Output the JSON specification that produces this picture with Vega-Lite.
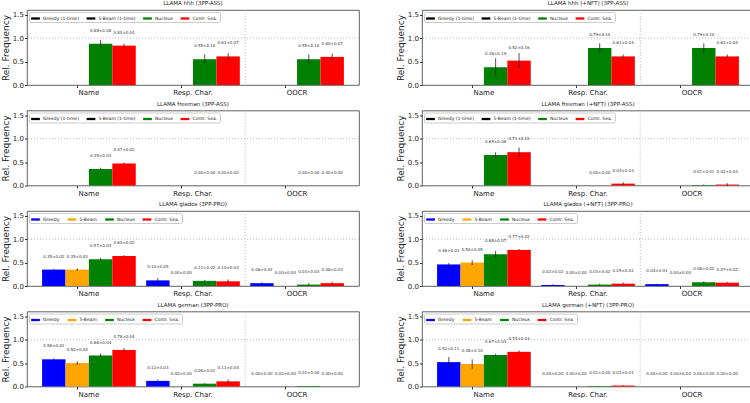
{
  "$schema": "https://vega.github.io/schema/vega-lite/v6.json",
  "padding": {"left": 0, "top": 0, "right": 0, "bottom": 0},
  "config": {
    "font": "DejaVu Sans",
    "view": {"stroke": "#3a3a3a", "strokeWidth": 0.8},
    "title": {"fontSize": 5.5, "fontWeight": "normal", "offset": 3, "color": "#222"},
    "axis": {"grid": false, "domain": false, "tickSize": 2.5, "tickColor": "#333", "labelColor": "#222", "titleColor": "#222", "labelFontSize": 7, "titleFontSize": 9, "titleFontWeight": "normal", "labelPadding": 1, "titlePadding": 2},
    "legend": {"orient": "top-left", "direction": "horizontal", "offset": 1.5, "fillColor": "white", "strokeColor": "#cccccc", "padding": 2, "cornerRadius": 1.5, "labelFontSize": 4.5, "labelColor": "#222", "symbolType": "M-1,-0.26H1V0.26H-1Z", "symbolSize": 76, "symbolStrokeWidth": 0, "columnPadding": 7.5, "labelOffset": 3},
    "concat": {"spacing": 35}
  },
  "datasets": {
    "bars": [
      {"p": "LLAMA hhh (3PP-ASS)", "cat": "Name", "m": "Nucleus", "v": 0.88, "e": 0.08},
      {"p": "LLAMA hhh (3PP-ASS)", "cat": "Name", "m": "Contr. Sea.", "v": 0.84, "e": 0.04},
      {"p": "LLAMA hhh (3PP-ASS)", "cat": "Resp. Char.", "m": "Nucleus", "v": 0.55, "e": 0.10},
      {"p": "LLAMA hhh (3PP-ASS)", "cat": "Resp. Char.", "m": "Contr. Sea.", "v": 0.61, "e": 0.07},
      {"p": "LLAMA hhh (3PP-ASS)", "cat": "OOCR", "m": "Nucleus", "v": 0.55, "e": 0.10},
      {"p": "LLAMA hhh (3PP-ASS)", "cat": "OOCR", "m": "Contr. Sea.", "v": 0.60, "e": 0.07},

      {"p": "LLAMA hhh (+NFT) (3PP-ASS)", "cat": "Name", "m": "Nucleus", "v": 0.38, "e": 0.19},
      {"p": "LLAMA hhh (+NFT) (3PP-ASS)", "cat": "Name", "m": "Contr. Sea.", "v": 0.52, "e": 0.16},
      {"p": "LLAMA hhh (+NFT) (3PP-ASS)", "cat": "Resp. Char.", "m": "Nucleus", "v": 0.79, "e": 0.10},
      {"p": "LLAMA hhh (+NFT) (3PP-ASS)", "cat": "Resp. Char.", "m": "Contr. Sea.", "v": 0.61, "e": 0.04},
      {"p": "LLAMA hhh (+NFT) (3PP-ASS)", "cat": "OOCR", "m": "Nucleus", "v": 0.79, "e": 0.10},
      {"p": "LLAMA hhh (+NFT) (3PP-ASS)", "cat": "OOCR", "m": "Contr. Sea.", "v": 0.61, "e": 0.04},

      {"p": "LLAMA freeman (3PP-ASS)", "cat": "Name", "m": "Nucleus", "v": 0.35, "e": 0.03},
      {"p": "LLAMA freeman (3PP-ASS)", "cat": "Name", "m": "Contr. Sea.", "v": 0.47, "e": 0.02},
      {"p": "LLAMA freeman (3PP-ASS)", "cat": "Resp. Char.", "m": "Nucleus", "v": 0.00, "e": 0.00},
      {"p": "LLAMA freeman (3PP-ASS)", "cat": "Resp. Char.", "m": "Contr. Sea.", "v": 0.00, "e": 0.00},
      {"p": "LLAMA freeman (3PP-ASS)", "cat": "OOCR", "m": "Nucleus", "v": 0.00, "e": 0.00},
      {"p": "LLAMA freeman (3PP-ASS)", "cat": "OOCR", "m": "Contr. Sea.", "v": 0.00, "e": 0.00},

      {"p": "LLAMA freeman (+NFT) (3PP-ASS)", "cat": "Name", "m": "Nucleus", "v": 0.65, "e": 0.06},
      {"p": "LLAMA freeman (+NFT) (3PP-ASS)", "cat": "Name", "m": "Contr. Sea.", "v": 0.71, "e": 0.10},
      {"p": "LLAMA freeman (+NFT) (3PP-ASS)", "cat": "Resp. Char.", "m": "Nucleus", "v": 0.00, "e": 0.00},
      {"p": "LLAMA freeman (+NFT) (3PP-ASS)", "cat": "Resp. Char.", "m": "Contr. Sea.", "v": 0.04, "e": 0.03},
      {"p": "LLAMA freeman (+NFT) (3PP-ASS)", "cat": "OOCR", "m": "Nucleus", "v": 0.01, "e": 0.01},
      {"p": "LLAMA freeman (+NFT) (3PP-ASS)", "cat": "OOCR", "m": "Contr. Sea.", "v": 0.02, "e": 0.03},

      {"p": "LLAMA glados (3PP-PRO)", "cat": "Name", "m": "Greedy", "v": 0.35, "e": 0.02},
      {"p": "LLAMA glados (3PP-PRO)", "cat": "Name", "m": "5-Beam", "v": 0.35, "e": 0.03},
      {"p": "LLAMA glados (3PP-PRO)", "cat": "Name", "m": "Nucleus", "v": 0.57, "e": 0.03},
      {"p": "LLAMA glados (3PP-PRO)", "cat": "Name", "m": "Contr. Sea.", "v": 0.64, "e": 0.02},
      {"p": "LLAMA glados (3PP-PRO)", "cat": "Resp. Char.", "m": "Greedy", "v": 0.12, "e": 0.05},
      {"p": "LLAMA glados (3PP-PRO)", "cat": "Resp. Char.", "m": "5-Beam", "v": 0.00, "e": 0.00},
      {"p": "LLAMA glados (3PP-PRO)", "cat": "Resp. Char.", "m": "Nucleus", "v": 0.11, "e": 0.02},
      {"p": "LLAMA glados (3PP-PRO)", "cat": "Resp. Char.", "m": "Contr. Sea.", "v": 0.10, "e": 0.04},
      {"p": "LLAMA glados (3PP-PRO)", "cat": "OOCR", "m": "Greedy", "v": 0.06, "e": 0.02},
      {"p": "LLAMA glados (3PP-PRO)", "cat": "OOCR", "m": "5-Beam", "v": 0.00, "e": 0.00},
      {"p": "LLAMA glados (3PP-PRO)", "cat": "OOCR", "m": "Nucleus", "v": 0.03, "e": 0.03},
      {"p": "LLAMA glados (3PP-PRO)", "cat": "OOCR", "m": "Contr. Sea.", "v": 0.06, "e": 0.03},

      {"p": "LLAMA glados (+NFT) (3PP-PRO)", "cat": "Name", "m": "Greedy", "v": 0.46, "e": 0.03},
      {"p": "LLAMA glados (+NFT) (3PP-PRO)", "cat": "Name", "m": "5-Beam", "v": 0.50, "e": 0.05},
      {"p": "LLAMA glados (+NFT) (3PP-PRO)", "cat": "Name", "m": "Nucleus", "v": 0.68, "e": 0.07},
      {"p": "LLAMA glados (+NFT) (3PP-PRO)", "cat": "Name", "m": "Contr. Sea.", "v": 0.77, "e": 0.02},
      {"p": "LLAMA glados (+NFT) (3PP-PRO)", "cat": "Resp. Char.", "m": "Greedy", "v": 0.02, "e": 0.02},
      {"p": "LLAMA glados (+NFT) (3PP-PRO)", "cat": "Resp. Char.", "m": "5-Beam", "v": 0.00, "e": 0.00},
      {"p": "LLAMA glados (+NFT) (3PP-PRO)", "cat": "Resp. Char.", "m": "Nucleus", "v": 0.03, "e": 0.02},
      {"p": "LLAMA glados (+NFT) (3PP-PRO)", "cat": "Resp. Char.", "m": "Contr. Sea.", "v": 0.05, "e": 0.02},
      {"p": "LLAMA glados (+NFT) (3PP-PRO)", "cat": "OOCR", "m": "Greedy", "v": 0.04, "e": 0.01},
      {"p": "LLAMA glados (+NFT) (3PP-PRO)", "cat": "OOCR", "m": "5-Beam", "v": 0.00, "e": 0.00},
      {"p": "LLAMA glados (+NFT) (3PP-PRO)", "cat": "OOCR", "m": "Nucleus", "v": 0.08, "e": 0.02},
      {"p": "LLAMA glados (+NFT) (3PP-PRO)", "cat": "OOCR", "m": "Contr. Sea.", "v": 0.07, "e": 0.02},

      {"p": "LLAMA german (3PP-PRO)", "cat": "Name", "m": "Greedy", "v": 0.58, "e": 0.02},
      {"p": "LLAMA german (3PP-PRO)", "cat": "Name", "m": "5-Beam", "v": 0.50, "e": 0.04},
      {"p": "LLAMA german (3PP-PRO)", "cat": "Name", "m": "Nucleus", "v": 0.66, "e": 0.04},
      {"p": "LLAMA german (3PP-PRO)", "cat": "Name", "m": "Contr. Sea.", "v": 0.78, "e": 0.04},
      {"p": "LLAMA german (3PP-PRO)", "cat": "Resp. Char.", "m": "Greedy", "v": 0.12, "e": 0.03},
      {"p": "LLAMA german (3PP-PRO)", "cat": "Resp. Char.", "m": "5-Beam", "v": 0.00, "e": 0.00},
      {"p": "LLAMA german (3PP-PRO)", "cat": "Resp. Char.", "m": "Nucleus", "v": 0.06, "e": 0.01},
      {"p": "LLAMA german (3PP-PRO)", "cat": "Resp. Char.", "m": "Contr. Sea.", "v": 0.11, "e": 0.04},
      {"p": "LLAMA german (3PP-PRO)", "cat": "OOCR", "m": "Greedy", "v": 0.00, "e": 0.00},
      {"p": "LLAMA german (3PP-PRO)", "cat": "OOCR", "m": "5-Beam", "v": 0.00, "e": 0.00},
      {"p": "LLAMA german (3PP-PRO)", "cat": "OOCR", "m": "Nucleus", "v": 0.01, "e": 0.00},
      {"p": "LLAMA german (3PP-PRO)", "cat": "OOCR", "m": "Contr. Sea.", "v": 0.00, "e": 0.00},

      {"p": "LLAMA german (+NFT) (3PP-PRO)", "cat": "Name", "m": "Greedy", "v": 0.52, "e": 0.11},
      {"p": "LLAMA german (+NFT) (3PP-PRO)", "cat": "Name", "m": "5-Beam", "v": 0.48, "e": 0.10},
      {"p": "LLAMA german (+NFT) (3PP-PRO)", "cat": "Name", "m": "Nucleus", "v": 0.67, "e": 0.03},
      {"p": "LLAMA german (+NFT) (3PP-PRO)", "cat": "Name", "m": "Contr. Sea.", "v": 0.74, "e": 0.03},
      {"p": "LLAMA german (+NFT) (3PP-PRO)", "cat": "Resp. Char.", "m": "Greedy", "v": 0.00, "e": 0.00},
      {"p": "LLAMA german (+NFT) (3PP-PRO)", "cat": "Resp. Char.", "m": "5-Beam", "v": 0.00, "e": 0.00},
      {"p": "LLAMA german (+NFT) (3PP-PRO)", "cat": "Resp. Char.", "m": "Nucleus", "v": 0.01, "e": 0.00},
      {"p": "LLAMA german (+NFT) (3PP-PRO)", "cat": "Resp. Char.", "m": "Contr. Sea.", "v": 0.02, "e": 0.01},
      {"p": "LLAMA german (+NFT) (3PP-PRO)", "cat": "OOCR", "m": "Greedy", "v": 0.00, "e": 0.00},
      {"p": "LLAMA german (+NFT) (3PP-PRO)", "cat": "OOCR", "m": "5-Beam", "v": 0.00, "e": 0.00},
      {"p": "LLAMA german (+NFT) (3PP-PRO)", "cat": "OOCR", "m": "Nucleus", "v": 0.00, "e": 0.00},
      {"p": "LLAMA german (+NFT) (3PP-PRO)", "cat": "OOCR", "m": "Contr. Sea.", "v": 0.00, "e": 0.00}
    ]
  },
  "resolve": {"scale": {"color": "independent", "xOffset": "independent", "x": "independent", "y": "independent"}, "legend": {"color": "independent"}},
  "spacing": 4.5,
  "vconcat": [
    {
      "resolve": {"scale": {"color": "independent", "xOffset": "independent", "x": "independent", "y": "independent"}, "legend": {"color": "independent"}},
      "hconcat": [
        {
          "title": "LLAMA hhh (3PP-ASS)", "width": 332, "height": 75,
          "layer": [
            {"data": {"values": [{}]}, "mark": {"type": "rule", "strokeDash": [1, 2], "color": "#aaaaaa", "strokeWidth": 0.8}, "encoding": {"y": {"datum": 1, "type": "quantitative", "scale": {"domain": [0, 1.6], "nice": false}, "axis": {"title": "Rel. Frequency", "values": [0, 0.5, 1, 1.5], "format": ".1f"}}}},
            {"data": {"values": [{}]}, "mark": {"type": "rule", "strokeDash": [1, 2], "color": "#aaaaaa", "strokeWidth": 0.8, "xOffset": -5}, "encoding": {"x": {"datum": "OOCR", "type": "nominal", "bandPosition": 0, "scale": {"domain": ["Name", "Resp. Char.", "OOCR"], "paddingInner": 0.1, "paddingOuter": 0.145}, "axis": {"title": null, "labelAngle": 0, "bandPosition": 0.375}}}},
            {
              "data": {"name": "bars"},
              "transform": [
                {"filter": "datum.p === 'LLAMA hhh (3PP-ASS)'"},
                {"calculate": "format(datum.v, '.2f') + '±' + format(datum.e, '.2f')", "as": "lbl"}
              ],
              "encoding": {
                "x": {"field": "cat", "type": "nominal", "scale": {"domain": ["Name", "Resp. Char.", "OOCR"], "paddingInner": 0.1, "paddingOuter": 0.145}, "axis": {"title": null, "labelAngle": 0, "bandPosition": 0.375}},
                "xOffset": {"field": "m", "type": "nominal", "scale": {"domain": ["Greedy (1-time)", "5-Beam (1-time)", "Nucleus", "Contr. Sea."]}},
                "y": {"field": "v", "type": "quantitative", "scale": {"domain": [0, 1.6], "nice": false}, "axis": {"title": "Rel. Frequency", "values": [0, 0.5, 1, 1.5], "format": ".1f"}}
              },
              "layer": [
                {"mark": "bar", "encoding": {"color": {"field": "m", "type": "nominal", "scale": {"domain": ["Greedy (1-time)", "5-Beam (1-time)", "Nucleus", "Contr. Sea."], "range": ["#000000", "#000000", "#008000", "#ff0000"]}, "legend": {"title": null}}}},
                {"mark": {"type": "errorbar", "ticks": false, "color": "#222222", "thickness": 0.8}, "encoding": {"yError": {"field": "e"}}},
                {"mark": {"type": "text", "dy": -13, "fontSize": 4, "color": "#333333"}, "encoding": {"text": {"field": "lbl"}}}
              ]
            }
          ]
        },
        {
          "title": "LLAMA hhh (+NFT) (3PP-ASS)", "width": 332, "height": 75,
          "layer": [
            {"data": {"values": [{}]}, "mark": {"type": "rule", "strokeDash": [1, 2], "color": "#aaaaaa", "strokeWidth": 0.8}, "encoding": {"y": {"datum": 1, "type": "quantitative", "scale": {"domain": [0, 1.6], "nice": false}, "axis": {"title": "Rel. Frequency", "values": [0, 0.5, 1, 1.5], "format": ".1f"}}}},
            {"data": {"values": [{}]}, "mark": {"type": "rule", "strokeDash": [1, 2], "color": "#aaaaaa", "strokeWidth": 0.8, "xOffset": -5}, "encoding": {"x": {"datum": "OOCR", "type": "nominal", "bandPosition": 0, "scale": {"domain": ["Name", "Resp. Char.", "OOCR"], "paddingInner": 0.1, "paddingOuter": 0.145}, "axis": {"title": null, "labelAngle": 0, "bandPosition": 0.375}}}},
            {
              "data": {"name": "bars"},
              "transform": [
                {"filter": "datum.p === 'LLAMA hhh (+NFT) (3PP-ASS)'"},
                {"calculate": "format(datum.v, '.2f') + '±' + format(datum.e, '.2f')", "as": "lbl"}
              ],
              "encoding": {
                "x": {"field": "cat", "type": "nominal", "scale": {"domain": ["Name", "Resp. Char.", "OOCR"], "paddingInner": 0.1, "paddingOuter": 0.145}, "axis": {"title": null, "labelAngle": 0, "bandPosition": 0.375}},
                "xOffset": {"field": "m", "type": "nominal", "scale": {"domain": ["Greedy (1-time)", "5-Beam (1-time)", "Nucleus", "Contr. Sea."]}},
                "y": {"field": "v", "type": "quantitative", "scale": {"domain": [0, 1.6], "nice": false}, "axis": {"title": "Rel. Frequency", "values": [0, 0.5, 1, 1.5], "format": ".1f"}}
              },
              "layer": [
                {"mark": "bar", "encoding": {"color": {"field": "m", "type": "nominal", "scale": {"domain": ["Greedy (1-time)", "5-Beam (1-time)", "Nucleus", "Contr. Sea."], "range": ["#000000", "#000000", "#008000", "#ff0000"]}, "legend": {"title": null}}}},
                {"mark": {"type": "errorbar", "ticks": false, "color": "#222222", "thickness": 0.8}, "encoding": {"yError": {"field": "e"}}},
                {"mark": {"type": "text", "dy": -13, "fontSize": 4, "color": "#333333"}, "encoding": {"text": {"field": "lbl"}}}
              ]
            }
          ]
        }
      ]
    },
    {
      "resolve": {"scale": {"color": "independent", "xOffset": "independent", "x": "independent", "y": "independent"}, "legend": {"color": "independent"}},
      "hconcat": [
        {
          "title": "LLAMA freeman (3PP-ASS)", "width": 332, "height": 75,
          "layer": [
            {"data": {"values": [{}]}, "mark": {"type": "rule", "strokeDash": [1, 2], "color": "#aaaaaa", "strokeWidth": 0.8}, "encoding": {"y": {"datum": 1, "type": "quantitative", "scale": {"domain": [0, 1.6], "nice": false}, "axis": {"title": "Rel. Frequency", "values": [0, 0.5, 1, 1.5], "format": ".1f"}}}},
            {"data": {"values": [{}]}, "mark": {"type": "rule", "strokeDash": [1, 2], "color": "#aaaaaa", "strokeWidth": 0.8, "xOffset": -5}, "encoding": {"x": {"datum": "OOCR", "type": "nominal", "bandPosition": 0, "scale": {"domain": ["Name", "Resp. Char.", "OOCR"], "paddingInner": 0.1, "paddingOuter": 0.145}, "axis": {"title": null, "labelAngle": 0, "bandPosition": 0.375}}}},
            {
              "data": {"name": "bars"},
              "transform": [
                {"filter": "datum.p === 'LLAMA freeman (3PP-ASS)'"},
                {"calculate": "format(datum.v, '.2f') + '±' + format(datum.e, '.2f')", "as": "lbl"}
              ],
              "encoding": {
                "x": {"field": "cat", "type": "nominal", "scale": {"domain": ["Name", "Resp. Char.", "OOCR"], "paddingInner": 0.1, "paddingOuter": 0.145}, "axis": {"title": null, "labelAngle": 0, "bandPosition": 0.375}},
                "xOffset": {"field": "m", "type": "nominal", "scale": {"domain": ["Greedy (1-time)", "5-Beam (1-time)", "Nucleus", "Contr. Sea."]}},
                "y": {"field": "v", "type": "quantitative", "scale": {"domain": [0, 1.6], "nice": false}, "axis": {"title": "Rel. Frequency", "values": [0, 0.5, 1, 1.5], "format": ".1f"}}
              },
              "layer": [
                {"mark": "bar", "encoding": {"color": {"field": "m", "type": "nominal", "scale": {"domain": ["Greedy (1-time)", "5-Beam (1-time)", "Nucleus", "Contr. Sea."], "range": ["#000000", "#000000", "#008000", "#ff0000"]}, "legend": {"title": null}}}},
                {"mark": {"type": "errorbar", "ticks": false, "color": "#222222", "thickness": 0.8}, "encoding": {"yError": {"field": "e"}}},
                {"mark": {"type": "text", "dy": -13, "fontSize": 4, "color": "#333333"}, "encoding": {"text": {"field": "lbl"}}}
              ]
            }
          ]
        },
        {
          "title": "LLAMA freeman (+NFT) (3PP-ASS)", "width": 332, "height": 75,
          "layer": [
            {"data": {"values": [{}]}, "mark": {"type": "rule", "strokeDash": [1, 2], "color": "#aaaaaa", "strokeWidth": 0.8}, "encoding": {"y": {"datum": 1, "type": "quantitative", "scale": {"domain": [0, 1.6], "nice": false}, "axis": {"title": "Rel. Frequency", "values": [0, 0.5, 1, 1.5], "format": ".1f"}}}},
            {"data": {"values": [{}]}, "mark": {"type": "rule", "strokeDash": [1, 2], "color": "#aaaaaa", "strokeWidth": 0.8, "xOffset": -5}, "encoding": {"x": {"datum": "OOCR", "type": "nominal", "bandPosition": 0, "scale": {"domain": ["Name", "Resp. Char.", "OOCR"], "paddingInner": 0.1, "paddingOuter": 0.145}, "axis": {"title": null, "labelAngle": 0, "bandPosition": 0.375}}}},
            {
              "data": {"name": "bars"},
              "transform": [
                {"filter": "datum.p === 'LLAMA freeman (+NFT) (3PP-ASS)'"},
                {"calculate": "format(datum.v, '.2f') + '±' + format(datum.e, '.2f')", "as": "lbl"}
              ],
              "encoding": {
                "x": {"field": "cat", "type": "nominal", "scale": {"domain": ["Name", "Resp. Char.", "OOCR"], "paddingInner": 0.1, "paddingOuter": 0.145}, "axis": {"title": null, "labelAngle": 0, "bandPosition": 0.375}},
                "xOffset": {"field": "m", "type": "nominal", "scale": {"domain": ["Greedy (1-time)", "5-Beam (1-time)", "Nucleus", "Contr. Sea."]}},
                "y": {"field": "v", "type": "quantitative", "scale": {"domain": [0, 1.6], "nice": false}, "axis": {"title": "Rel. Frequency", "values": [0, 0.5, 1, 1.5], "format": ".1f"}}
              },
              "layer": [
                {"mark": "bar", "encoding": {"color": {"field": "m", "type": "nominal", "scale": {"domain": ["Greedy (1-time)", "5-Beam (1-time)", "Nucleus", "Contr. Sea."], "range": ["#000000", "#000000", "#008000", "#ff0000"]}, "legend": {"title": null}}}},
                {"mark": {"type": "errorbar", "ticks": false, "color": "#222222", "thickness": 0.8}, "encoding": {"yError": {"field": "e"}}},
                {"mark": {"type": "text", "dy": -13, "fontSize": 4, "color": "#333333"}, "encoding": {"text": {"field": "lbl"}}}
              ]
            }
          ]
        }
      ]
    },
    {
      "resolve": {"scale": {"color": "independent", "xOffset": "independent", "x": "independent", "y": "independent"}, "legend": {"color": "independent"}},
      "hconcat": [
        {
          "title": "LLAMA glados (3PP-PRO)", "width": 332, "height": 75,
          "layer": [
            {"data": {"values": [{}]}, "mark": {"type": "rule", "strokeDash": [1, 2], "color": "#aaaaaa", "strokeWidth": 0.8}, "encoding": {"y": {"datum": 1, "type": "quantitative", "scale": {"domain": [0, 1.6], "nice": false}, "axis": {"title": "Rel. Frequency", "values": [0, 0.5, 1, 1.5], "format": ".1f"}}}},
            {"data": {"values": [{}]}, "mark": {"type": "rule", "strokeDash": [1, 2], "color": "#aaaaaa", "strokeWidth": 0.8, "xOffset": -5}, "encoding": {"x": {"datum": "OOCR", "type": "nominal", "bandPosition": 0, "scale": {"domain": ["Name", "Resp. Char.", "OOCR"], "paddingInner": 0.1, "paddingOuter": 0.145}, "axis": {"title": null, "labelAngle": 0, "bandPosition": 0.375}}}},
            {
              "data": {"name": "bars"},
              "transform": [
                {"filter": "datum.p === 'LLAMA glados (3PP-PRO)'"},
                {"calculate": "format(datum.v, '.2f') + '±' + format(datum.e, '.2f')", "as": "lbl"}
              ],
              "encoding": {
                "x": {"field": "cat", "type": "nominal", "scale": {"domain": ["Name", "Resp. Char.", "OOCR"], "paddingInner": 0.1, "paddingOuter": 0.145}, "axis": {"title": null, "labelAngle": 0, "bandPosition": 0.375}},
                "xOffset": {"field": "m", "type": "nominal", "scale": {"domain": ["Greedy", "5-Beam", "Nucleus", "Contr. Sea."]}},
                "y": {"field": "v", "type": "quantitative", "scale": {"domain": [0, 1.6], "nice": false}, "axis": {"title": "Rel. Frequency", "values": [0, 0.5, 1, 1.5], "format": ".1f"}}
              },
              "layer": [
                {"mark": "bar", "encoding": {"color": {"field": "m", "type": "nominal", "scale": {"domain": ["Greedy", "5-Beam", "Nucleus", "Contr. Sea."], "range": ["#0000ff", "#ffa500", "#008000", "#ff0000"]}, "legend": {"title": null}}}},
                {"mark": {"type": "errorbar", "ticks": false, "color": "#222222", "thickness": 0.8}, "encoding": {"yError": {"field": "e"}}},
                {"mark": {"type": "text", "dy": -13, "fontSize": 4, "color": "#333333"}, "encoding": {"text": {"field": "lbl"}}}
              ]
            }
          ]
        },
        {
          "title": "LLAMA glados (+NFT) (3PP-PRO)", "width": 332, "height": 75,
          "layer": [
            {"data": {"values": [{}]}, "mark": {"type": "rule", "strokeDash": [1, 2], "color": "#aaaaaa", "strokeWidth": 0.8}, "encoding": {"y": {"datum": 1, "type": "quantitative", "scale": {"domain": [0, 1.6], "nice": false}, "axis": {"title": "Rel. Frequency", "values": [0, 0.5, 1, 1.5], "format": ".1f"}}}},
            {"data": {"values": [{}]}, "mark": {"type": "rule", "strokeDash": [1, 2], "color": "#aaaaaa", "strokeWidth": 0.8, "xOffset": -5}, "encoding": {"x": {"datum": "OOCR", "type": "nominal", "bandPosition": 0, "scale": {"domain": ["Name", "Resp. Char.", "OOCR"], "paddingInner": 0.1, "paddingOuter": 0.145}, "axis": {"title": null, "labelAngle": 0, "bandPosition": 0.375}}}},
            {
              "data": {"name": "bars"},
              "transform": [
                {"filter": "datum.p === 'LLAMA glados (+NFT) (3PP-PRO)'"},
                {"calculate": "format(datum.v, '.2f') + '±' + format(datum.e, '.2f')", "as": "lbl"}
              ],
              "encoding": {
                "x": {"field": "cat", "type": "nominal", "scale": {"domain": ["Name", "Resp. Char.", "OOCR"], "paddingInner": 0.1, "paddingOuter": 0.145}, "axis": {"title": null, "labelAngle": 0, "bandPosition": 0.375}},
                "xOffset": {"field": "m", "type": "nominal", "scale": {"domain": ["Greedy", "5-Beam", "Nucleus", "Contr. Sea."]}},
                "y": {"field": "v", "type": "quantitative", "scale": {"domain": [0, 1.6], "nice": false}, "axis": {"title": "Rel. Frequency", "values": [0, 0.5, 1, 1.5], "format": ".1f"}}
              },
              "layer": [
                {"mark": "bar", "encoding": {"color": {"field": "m", "type": "nominal", "scale": {"domain": ["Greedy", "5-Beam", "Nucleus", "Contr. Sea."], "range": ["#0000ff", "#ffa500", "#008000", "#ff0000"]}, "legend": {"title": null}}}},
                {"mark": {"type": "errorbar", "ticks": false, "color": "#222222", "thickness": 0.8}, "encoding": {"yError": {"field": "e"}}},
                {"mark": {"type": "text", "dy": -13, "fontSize": 4, "color": "#333333"}, "encoding": {"text": {"field": "lbl"}}}
              ]
            }
          ]
        }
      ]
    },
    {
      "resolve": {"scale": {"color": "independent", "xOffset": "independent", "x": "independent", "y": "independent"}, "legend": {"color": "independent"}},
      "hconcat": [
        {
          "title": "LLAMA german (3PP-PRO)", "width": 332, "height": 75,
          "layer": [
            {"data": {"values": [{}]}, "mark": {"type": "rule", "strokeDash": [1, 2], "color": "#aaaaaa", "strokeWidth": 0.8}, "encoding": {"y": {"datum": 1, "type": "quantitative", "scale": {"domain": [0, 1.6], "nice": false}, "axis": {"title": "Rel. Frequency", "values": [0, 0.5, 1, 1.5], "format": ".1f"}}}},
            {"data": {"values": [{}]}, "mark": {"type": "rule", "strokeDash": [1, 2], "color": "#aaaaaa", "strokeWidth": 0.8, "xOffset": -5}, "encoding": {"x": {"datum": "OOCR", "type": "nominal", "bandPosition": 0, "scale": {"domain": ["Name", "Resp. Char.", "OOCR"], "paddingInner": 0.1, "paddingOuter": 0.145}, "axis": {"title": null, "labelAngle": 0, "bandPosition": 0.375}}}},
            {
              "data": {"name": "bars"},
              "transform": [
                {"filter": "datum.p === 'LLAMA german (3PP-PRO)'"},
                {"calculate": "format(datum.v, '.2f') + '±' + format(datum.e, '.2f')", "as": "lbl"}
              ],
              "encoding": {
                "x": {"field": "cat", "type": "nominal", "scale": {"domain": ["Name", "Resp. Char.", "OOCR"], "paddingInner": 0.1, "paddingOuter": 0.145}, "axis": {"title": null, "labelAngle": 0, "bandPosition": 0.375}},
                "xOffset": {"field": "m", "type": "nominal", "scale": {"domain": ["Greedy", "5-Beam", "Nucleus", "Contr. Sea."]}},
                "y": {"field": "v", "type": "quantitative", "scale": {"domain": [0, 1.6], "nice": false}, "axis": {"title": "Rel. Frequency", "values": [0, 0.5, 1, 1.5], "format": ".1f"}}
              },
              "layer": [
                {"mark": "bar", "encoding": {"color": {"field": "m", "type": "nominal", "scale": {"domain": ["Greedy", "5-Beam", "Nucleus", "Contr. Sea."], "range": ["#0000ff", "#ffa500", "#008000", "#ff0000"]}, "legend": {"title": null}}}},
                {"mark": {"type": "errorbar", "ticks": false, "color": "#222222", "thickness": 0.8}, "encoding": {"yError": {"field": "e"}}},
                {"mark": {"type": "text", "dy": -13, "fontSize": 4, "color": "#333333"}, "encoding": {"text": {"field": "lbl"}}}
              ]
            }
          ]
        },
        {
          "title": "LLAMA german (+NFT) (3PP-PRO)", "width": 332, "height": 75,
          "layer": [
            {"data": {"values": [{}]}, "mark": {"type": "rule", "strokeDash": [1, 2], "color": "#aaaaaa", "strokeWidth": 0.8}, "encoding": {"y": {"datum": 1, "type": "quantitative", "scale": {"domain": [0, 1.6], "nice": false}, "axis": {"title": "Rel. Frequency", "values": [0, 0.5, 1, 1.5], "format": ".1f"}}}},
            {"data": {"values": [{}]}, "mark": {"type": "rule", "strokeDash": [1, 2], "color": "#aaaaaa", "strokeWidth": 0.8, "xOffset": -5}, "encoding": {"x": {"datum": "OOCR", "type": "nominal", "bandPosition": 0, "scale": {"domain": ["Name", "Resp. Char.", "OOCR"], "paddingInner": 0.1, "paddingOuter": 0.145}, "axis": {"title": null, "labelAngle": 0, "bandPosition": 0.375}}}},
            {
              "data": {"name": "bars"},
              "transform": [
                {"filter": "datum.p === 'LLAMA german (+NFT) (3PP-PRO)'"},
                {"calculate": "format(datum.v, '.2f') + '±' + format(datum.e, '.2f')", "as": "lbl"}
              ],
              "encoding": {
                "x": {"field": "cat", "type": "nominal", "scale": {"domain": ["Name", "Resp. Char.", "OOCR"], "paddingInner": 0.1, "paddingOuter": 0.145}, "axis": {"title": null, "labelAngle": 0, "bandPosition": 0.375}},
                "xOffset": {"field": "m", "type": "nominal", "scale": {"domain": ["Greedy", "5-Beam", "Nucleus", "Contr. Sea."]}},
                "y": {"field": "v", "type": "quantitative", "scale": {"domain": [0, 1.6], "nice": false}, "axis": {"title": "Rel. Frequency", "values": [0, 0.5, 1, 1.5], "format": ".1f"}}
              },
              "layer": [
                {"mark": "bar", "encoding": {"color": {"field": "m", "type": "nominal", "scale": {"domain": ["Greedy", "5-Beam", "Nucleus", "Contr. Sea."], "range": ["#0000ff", "#ffa500", "#008000", "#ff0000"]}, "legend": {"title": null}}}},
                {"mark": {"type": "errorbar", "ticks": false, "color": "#222222", "thickness": 0.8}, "encoding": {"yError": {"field": "e"}}},
                {"mark": {"type": "text", "dy": -13, "fontSize": 4, "color": "#333333"}, "encoding": {"text": {"field": "lbl"}}}
              ]
            }
          ]
        }
      ]
    }
  ]
}
